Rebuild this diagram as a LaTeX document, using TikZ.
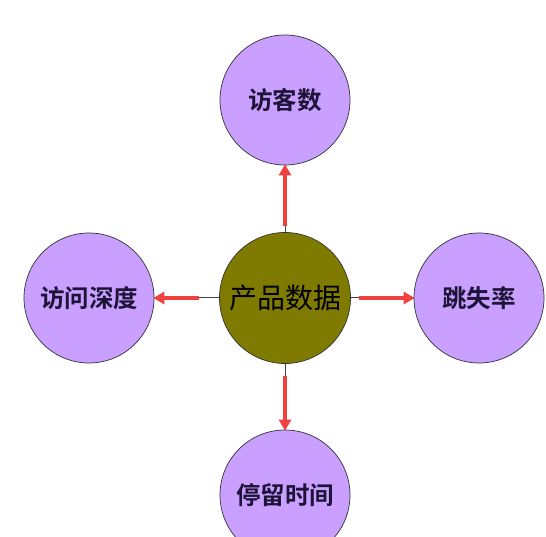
\documentclass[tikz,border=0pt]{standalone}
\usepackage{fontspec}
\newfontfamily\cjk{Noto Sans CJK SC}[BoldFont={Noto Sans CJK SC Bold}]
\usetikzlibrary{arrows.meta}
\definecolor{leafpurple}{HTML}{C9A0FF}
\definecolor{hubolive}{HTML}{7F7A00}
\definecolor{txtdark}{HTML}{1E1438}
\definecolor{arrred}{HTML}{F0403F}
\tikzset{
  leaf/.style={circle, draw=black!80, line width=0.7pt, fill=leafpurple, minimum size=130pt, inner sep=0pt, font=\cjk\bfseries\fontsize{24.5}{24.5}\selectfont, text=txtdark},
  hub/.style={circle, draw=black!80, line width=0.7pt, fill=hubolive, minimum size=131pt, inner sep=0pt, font=\cjk\fontsize{28}{28}\selectfont, text=black},
  baseline/.style={draw=black!75, line width=1pt},
  redarrow/.style={draw=arrred, line width=3.5pt, -{Triangle[length=11pt,width=12pt]}, shorten >=-1pt}
}
\begin{document}
\begin{tikzpicture}[x=1pt,y=1pt]
\useasboundingbox (0,0) rectangle (546,-537);
\fill[white] (0,0) rectangle (546,-537);
\node[hub] (c) at (285,-298) {产品数据};
\node[leaf] (t) at (285,-100) {访客数};
\node[leaf] (l) at (89,-298) {访问深度};
\node[leaf] (r) at (479,-298) {跳失率};
\node[leaf] (b) at (285,-495) {停留时间};
\draw[baseline] (c.north) -- (t.south);
\draw[baseline] (c.west) -- (l.east);
\draw[baseline] (c.east) -- (r.west);
\draw[baseline] (c.south) -- (b.north);
\draw[redarrow] ([yshift=6pt]c.north) -- (t.south);
\draw[redarrow] ([xshift=-20pt]c.west) -- (l.east);
\draw[redarrow] ([xshift=8pt]c.east) -- (r.west);
\draw[redarrow] ([yshift=-12pt]c.south) -- (b.north);
\end{tikzpicture}
\end{document}
